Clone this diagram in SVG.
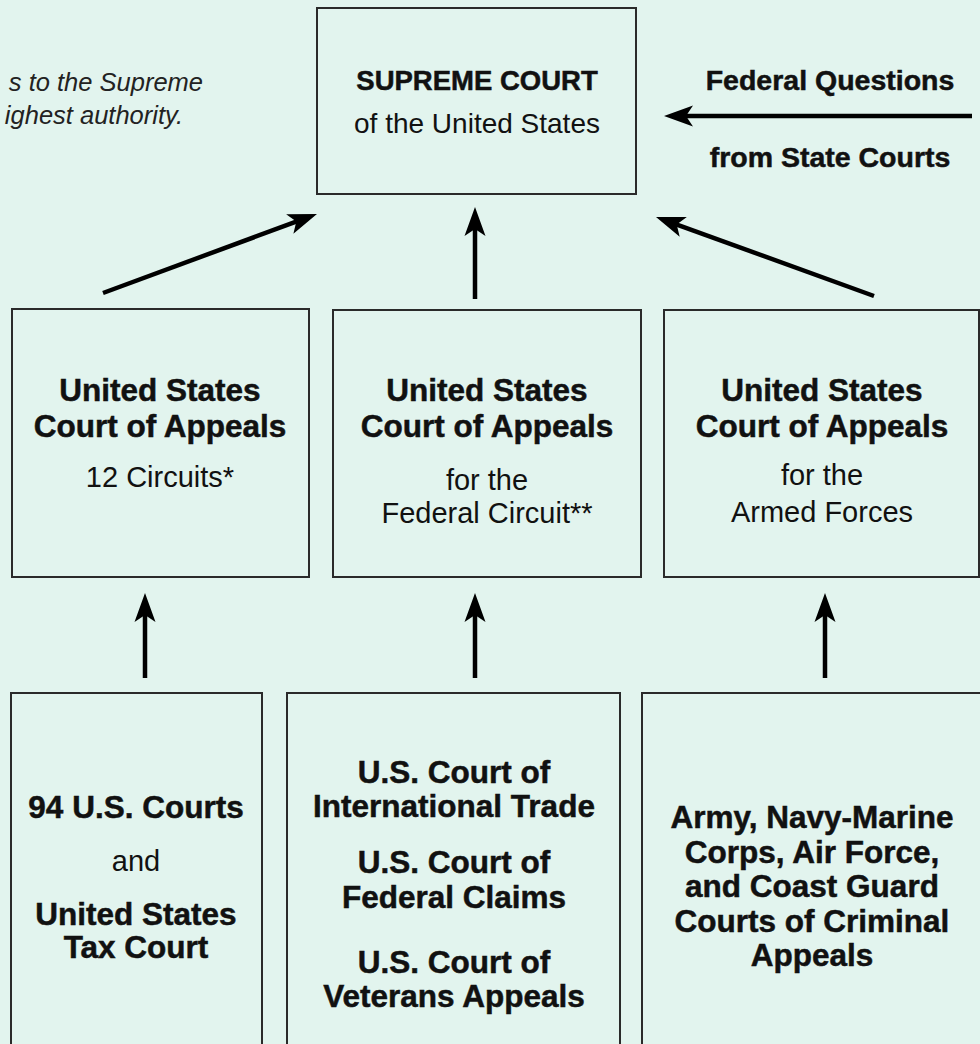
<svg xmlns="http://www.w3.org/2000/svg" width="980" height="1044" viewBox="0 0 980 1044">
  <style>
    .bg { fill: #e2f4ee; }
    .box { fill: #e2f4ee; stroke: #2a2a2a; stroke-width: 2; }
    text { font-family: "Liberation Sans", Arial, sans-serif; fill: #111; text-anchor: middle; }
    .b { font-weight: bold; font-size: 31.5px; stroke: #111; stroke-width: 0.5; }
    .bt { font-weight: bold; font-size: 28.5px; stroke: #111; stroke-width: 0.5; }
    .r { font-size: 29px; }
    .note { font-style: italic; font-size: 25.5px; fill: #222; text-anchor: end; }
    .arrow { stroke: #000; stroke-width: 4.5; fill: none; marker-end: url(#head); }
  </style>
  <defs>
    <marker id="head" markerUnits="userSpaceOnUse" viewBox="-30 -11 32 22" markerWidth="32" markerHeight="22" refX="-20" refY="0" orient="auto">
      <path d="M0,0 L-29,-10.5 L-22,0 L-29,10.5 Z" fill="#000"/>
    </marker>
  </defs>
  <rect class="bg" x="0" y="0" width="980" height="1044"/>

  <g id="note">
    <text class="note" x="203" y="91">s to the Supreme</text>
    <text class="note" x="183" y="124">ighest authority.</text>
  </g>

  <g id="supreme-court">
    <rect class="box" x="317" y="8" width="319" height="186"/>
    <text class="bt" x="477" y="90" style="font-size:27.5px">SUPREME COURT</text>
    <text class="r" x="477" y="133" style="font-size:28px">of the United States</text>
  </g>

  <g id="federal-questions">
    <text class="bt" x="830" y="90">Federal Questions</text>
    <text class="bt" x="830" y="167">from State Courts</text>
  </g>

  <g id="appeals-circuits">
    <rect class="box" x="12" y="309" width="297" height="268"/>
    <text class="b" x="160" y="401">United States</text>
    <text class="b" x="160" y="437">Court of Appeals</text>
    <text class="r" x="160" y="487">12 Circuits*</text>
  </g>

  <g id="appeals-federal-circuit">
    <rect class="box" x="333" y="310" width="308" height="267"/>
    <text class="b" x="487" y="401">United States</text>
    <text class="b" x="487" y="437">Court of Appeals</text>
    <text class="r" x="487" y="490">for the</text>
    <text class="r" x="487" y="523">Federal Circuit**</text>
  </g>

  <g id="appeals-armed-forces">
    <rect class="box" x="664" y="310" width="315" height="267"/>
    <text class="b" x="822" y="401">United States</text>
    <text class="b" x="822" y="437">Court of Appeals</text>
    <text class="r" x="822" y="485">for the</text>
    <text class="r" x="822" y="522">Armed Forces</text>
  </g>

  <g id="district-tax">
    <rect class="box" x="11" y="693" width="251" height="380"/>
    <text class="b" x="136" y="818">94 U.S. Courts</text>
    <text class="r" x="136" y="871">and</text>
    <text class="b" x="136" y="925">United States</text>
    <text class="b" x="136" y="958">Tax Court</text>
  </g>

  <g id="trade-claims-veterans">
    <rect class="box" x="287" y="693" width="333" height="380"/>
    <text class="b" x="454" y="783">U.S. Court of</text>
    <text class="b" x="454" y="817">International Trade</text>
    <text class="b" x="454" y="873">U.S. Court of</text>
    <text class="b" x="454" y="908">Federal Claims</text>
    <text class="b" x="454" y="973">U.S. Court of</text>
    <text class="b" x="454" y="1007">Veterans Appeals</text>
  </g>

  <g id="criminal-appeals">
    <rect class="box" x="642" y="693" width="360" height="380"/>
    <text class="b" x="812" y="828">Army, Navy-Marine</text>
    <text class="b" x="812" y="863">Corps, Air Force,</text>
    <text class="b" x="812" y="897">and Coast Guard</text>
    <text class="b" x="812" y="932">Courts of Criminal</text>
    <text class="b" x="812" y="966">Appeals</text>
  </g>

  <g id="connectors">
    <line class="arrow" x1="103" y1="293" x2="298.2" y2="220.9"/>
    <line class="arrow" x1="475" y1="299" x2="475" y2="227"/>
    <line class="arrow" x1="874" y1="296" x2="674.8" y2="223.8"/>
    <line class="arrow" x1="972" y1="116" x2="684" y2="116"/>
    <line class="arrow" x1="145" y1="678" x2="145" y2="613"/>
    <line class="arrow" x1="475" y1="678" x2="475" y2="613"/>
    <line class="arrow" x1="825" y1="678" x2="825" y2="613"/>
  </g>
</svg>
